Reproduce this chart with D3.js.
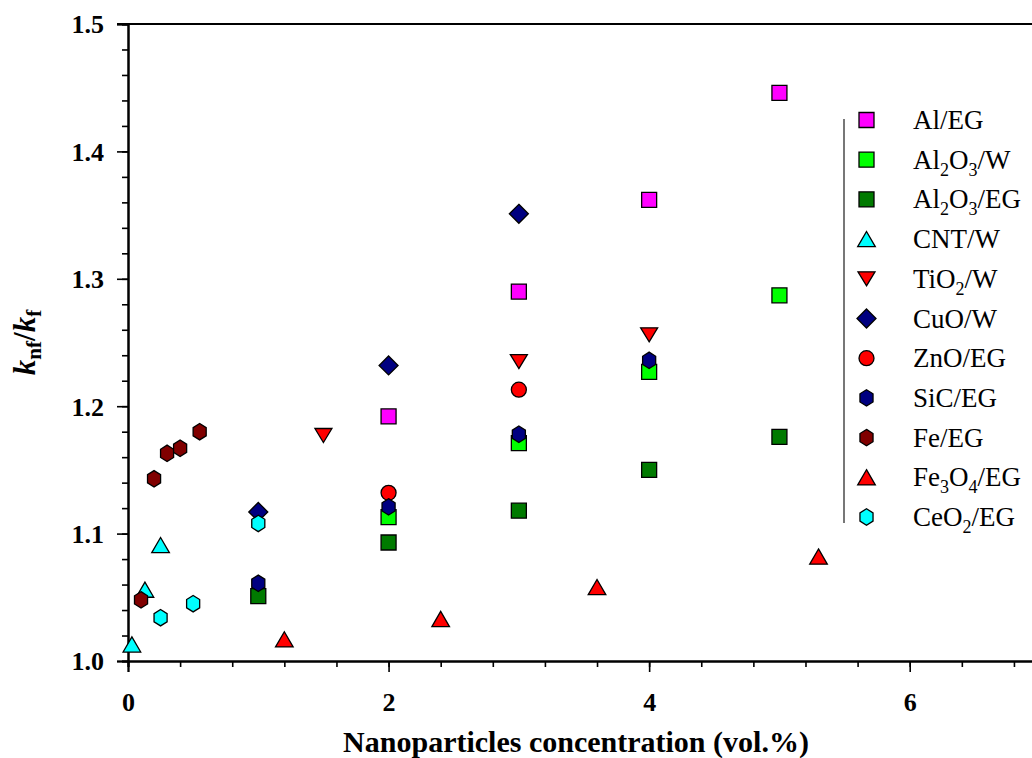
<!DOCTYPE html>
<html><head><meta charset="utf-8">
<script src="https://cdn.jsdelivr.net/npm/d3@7"></script>
<style>
html,body{margin:0;padding:0;background:#fff;}
svg{display:block;font-family:"Liberation Serif","Times New Roman",serif;}
</style></head>
<body><svg id="c" width="1032" height="758"></svg>
<script>
// ---- data ----
const seriesNames = ["Al/EG","Al2O3/W","Al2O3/EG","CNT/W","TiO2/W","CuO/W","ZnO/EG","SiC/EG","Fe/EG","Fe3O4/EG","CeO2/EG"];
const alEG_x = [2,3,4,5];            const alEG_y = [1.192,1.290,1.362,1.446];
const al2o3W_x = [2,3,4,5];          const al2o3W_y = [1.113,1.171,1.227,1.287];
const al2o3EG_x = [1,2,3,4,5];       const al2o3EG_y = [1.051,1.093,1.118,1.150,1.176];
const cntW_x = [0.03,0.13,0.25];     const cntW_y = [1.013,1.056,1.091];
const tio2W_x = [1.5,3,4];           const tio2W_y = [1.177,1.235,1.256];
const cuoW_x = [1,2,3];              const cuoW_y = [1.117,1.232,1.351];
const znoEG_x = [2,3];               const znoEG_y = [1.132,1.213];
const sicEG_x = [1,2,3,4];           const sicEG_y = [1.061,1.121,1.178,1.236];
const feEG_x = [0.1,0.2,0.3,0.4,0.55]; const feEG_y = [1.048,1.143,1.163,1.167,1.180];
const fe3o4EG_x = [1.2,2.4,3.6,5.3]; const fe3o4EG_y = [1.017,1.033,1.058,1.082];
const ceo2EG_x = [0.25,0.5,1];       const ceo2EG_y = [1.034,1.045,1.108];
const xTickLabels = [0,2,4,6];
const yTickLabels = [1.0,1.1,1.2,1.3,1.4,1.5];

const seriesX = [alEG_x,al2o3W_x,al2o3EG_x,cntW_x,tio2W_x,cuoW_x,znoEG_x,sicEG_x,feEG_x,fe3o4EG_x,ceo2EG_x];
const seriesY = [alEG_y,al2o3W_y,al2o3EG_y,cntW_y,tio2W_y,cuoW_y,znoEG_y,sicEG_y,feEG_y,fe3o4EG_y,ceo2EG_y];
const colors = ["#ff00ff","#00ff00","#007a00","#00ffff","#ff0000","#000080","#ff0000","#000080","#800000","#ff0000","#00ffff"];
const shapes = ["square","square","square","triUp","triDown","diamond","circle","hex","hex","triUp","hex"];
// legend labels: [text, isSub]
const legendParts = [
  [["Al/EG",0]],
  [["Al",0],["2",1],["O",0],["3",1],["/W",0]],
  [["Al",0],["2",1],["O",0],["3",1],["/EG",0]],
  [["CNT/W",0]],
  [["TiO",0],["2",1],["/W",0]],
  [["CuO/W",0]],
  [["ZnO/EG",0]],
  [["SiC/EG",0]],
  [["Fe/EG",0]],
  [["Fe",0],["3",1],["O",0],["4",1],["/EG",0]],
  [["CeO",0],["2",1],["/EG",0]]
];

// ---- layout ----
const svg = d3.select("#c");
const x = d3.scaleLinear().domain([0,7]).range([128,1040]);
const y = d3.scaleLinear().domain([1.0,1.5]).range([661,24]);

function shapePath(s){
  if(s==="square"){ const h=7.5; return `M${-h},${-h}H${h}V${h}H${-h}Z`; }
  if(s==="circle"){ return d3.symbol(d3.symbolCircle, Math.PI*7.5*7.5)(); }
  if(s==="diamond"){ const h=9.5; return `M0,${-h}L${h},0L0,${h}L${-h},0Z`; }
  if(s==="triUp"){ const w=8.8,h=7.6; return `M0,${-h}L${w},${h}L${-w},${h}Z`; }
  if(s==="triDown"){ const w=8.5,h=7; return `M0,${h}L${w},${-h}L${-w},${-h}Z`; }
  if(s==="hex"){ const r=8.2; let p=[]; for(let i=0;i<6;i++){const a=Math.PI/3*i - Math.PI/2; p.push([r*Math.cos(a)*0.92, r*Math.sin(a)]);} return "M"+p.map(d=>d.join(",")).join("L")+"Z"; }
}

// axes
const axisStroke = 2;
const gx = svg.append("g").attr("transform",`translate(0,${y(1.0)})`);
gx.call(d3.axisBottom(x).tickValues(d3.range(0,7.0,0.4).map(v=>+v.toFixed(1))).tickSize(6).tickFormat(""));
gx.append("g").call(d3.axisBottom(x).tickValues(xTickLabels).tickSize(11).tickFormat(d3.format("d")));
gx.selectAll("path.domain").attr("stroke","#000").attr("stroke-width",axisStroke);
gx.selectAll("line").attr("stroke","#000").attr("stroke-width",1.6);
gx.selectAll("text").attr("font-size",26).attr("font-weight","bold").attr("fill","#000")
  .attr("font-family","Liberation Serif, Times New Roman, serif").attr("y",50).attr("dy",0);

const gy = svg.append("g").attr("transform",`translate(${x(0)},0)`);
gy.call(d3.axisLeft(y).tickValues(d3.range(0,26).map(i=>1+i*0.02)).tickSize(6).tickFormat(""));
gy.append("g").call(d3.axisLeft(y).tickValues(yTickLabels).tickSize(11).tickFormat(d3.format(".1f")));
gy.selectAll("path.domain").attr("stroke","#000").attr("stroke-width",axisStroke);
gy.selectAll("line").attr("stroke","#000").attr("stroke-width",1.6);
gy.selectAll("text").attr("font-size",26).attr("font-weight","bold").attr("fill","#000")
  .attr("font-family","Liberation Serif, Times New Roman, serif").attr("x",-24).attr("dy","0.34em");

// top frame line
svg.append("line").attr("x1",x(0)-11).attr("x2",1032).attr("y1",y(1.5)).attr("y2",y(1.5))
  .attr("stroke","#000").attr("stroke-width",axisStroke);

// axis titles
svg.append("text").attr("x",576).attr("y",752).attr("text-anchor","middle")
  .attr("font-size",30).attr("font-weight","bold").text("Nanoparticles concentration (vol.%)");

const yt = svg.append("text").attr("transform",`translate(35,${(y(1.0)+y(1.5))/2}) rotate(-90)`)
  .attr("text-anchor","middle").attr("font-weight","bold").attr("font-size",31);
yt.append("tspan").attr("font-style","italic").text("k");
yt.append("tspan").attr("font-size",21).attr("dy",6).text("nf");
yt.append("tspan").attr("dy",-6).text("/");
yt.append("tspan").attr("font-style","italic").text("k");
yt.append("tspan").attr("font-size",21).attr("dy",6).text("f");

// points
const pts = svg.append("g");
seriesNames.forEach((name,i)=>{
  const rows = seriesX[i].map((xv,j)=>({x:xv,y:seriesY[i][j]}));
  pts.append("g").selectAll("path").data(rows).join("path")
    .attr("d",shapePath(shapes[i]))
    .attr("transform",d=>`translate(${x(d.x)},${y(d.y)})`)
    .attr("fill",colors[i]).attr("stroke","#000").attr("stroke-width",1.3);
});

// legend
const lg = svg.append("g");
const ly = d3.scaleLinear().domain([0,10]).range([120,517]);
lg.append("line").attr("x1",844).attr("x2",844).attr("y1",119).attr("y2",523)
  .attr("stroke","#555").attr("stroke-width",1.6);
seriesNames.forEach((name,i)=>{
  lg.append("path").attr("d",shapePath(shapes[i])).attr("transform",`translate(866.5,${ly(i)})`)
    .attr("fill",colors[i]).attr("stroke","#000").attr("stroke-width",1.3);
  const t = lg.append("text").attr("x",913).attr("y",ly(i)+9).attr("font-size",27).attr("fill","#000");
  let sub=false;
  legendParts[i].forEach(([s,isSub])=>{
    const ts = t.append("tspan").text(s);
    if(isSub && !sub){ ts.attr("dy",7).attr("font-size",18); sub=true; }
    else if(isSub && sub){ ts.attr("font-size",18); }
    else if(!isSub && sub){ ts.attr("dy",-7); sub=false; }
  });
});
</script></body></html>
